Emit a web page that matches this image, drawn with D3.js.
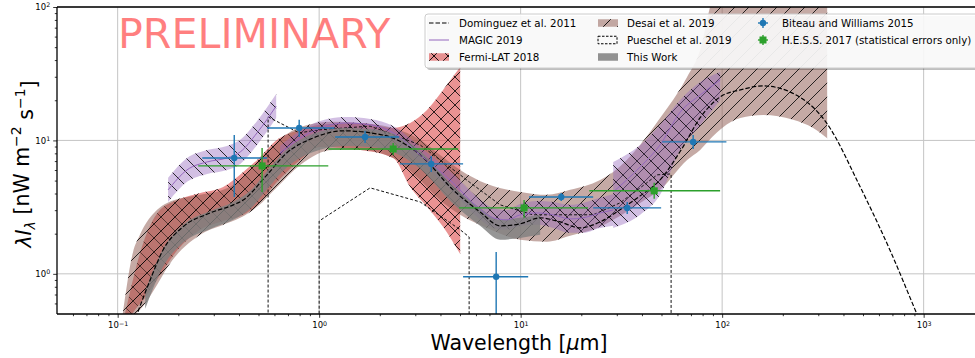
<!DOCTYPE html>
<html>
<head>
<meta charset="utf-8">
<script src="https://cdn.jsdelivr.net/npm/d3@7"></script>
<style>
  body { margin: 0; background: #fff; }
  svg { display: block; font-family: "DejaVu Sans", sans-serif; }
</style>
</head>
<body>
<svg id="chart" width="975" height="358"></svg>
<script>
// Dominguez et al. 2011 model
const domWl  = [0.12, 0.125, 0.145, 0.168, 0.211, 0.288, 0.375, 0.42, 0.55, 0.69, 0.93, 1.32, 1.79, 2.33, 3.17, 4.62, 6.29, 7.9, 9.95, 12.5, 15.7, 19.7, 24.8, 31, 39.2, 49.2, 62.6, 77.8, 97.8, 123, 160, 217, 330, 484, 680, 926, 1200];
const domVal = [0.42, 0.50, 0.90, 1.51, 2.25, 2.86, 3.29, 3.58, 5.5, 8.05, 10.4, 11.8, 11.4, 10.4, 7.8, 4.26, 2.91, 2.29, 2.37, 2.63, 2.45, 2.21, 2.45, 3.01, 3.84, 5.06, 8.49, 14.8, 21.2, 23.9, 25.6, 23.1, 13.5, 4.49, 1.51, 0.50, 0.2];

// Fermi-LAT 2018
const fermiWl = [0.109, 0.119, 0.134, 0.159, 0.198, 0.257, 0.334, 0.420, 0.493, 0.619, 0.805, 1.01, 1.60, 2.33, 2.83, 3.43, 4.12, 5.01];
const fermiLo = [0.40, 0.51, 0.64, 0.93, 1.51, 2.14, 2.49, 2.77, 3.29, 4.89, 7.14, 8.94, 8.49, 7.39, 4.48, 3.18, 2.25, 1.41];
const fermiHi = [0.51, 0.90, 1.71, 2.91, 3.58, 4.04, 4.48, 5.81, 7.14, 10.1, 12.0, 13.1, 13.5, 12.4, 13.5, 16.9, 23.9, 35.5];

// Desai et al. 2019
const desaiWl = [0.106, 0.119, 0.129, 0.157, 0.176, 0.257, 0.334, 0.406, 0.492, 0.619, 0.805, 1.17, 1.60, 2.33, 3.17, 3.98, 5.01, 6.82, 9.95, 13.5, 17.6, 24.8, 28.8, 39.2, 49.2, 67.0, 77.8, 89.2, 100, 123, 160, 225, 283, 332];
const desaiLo = [0.45, 0.485, 0.537, 0.828, 1.11, 1.96, 2.33, 2.63, 3.18, 4.48, 6.55, 8.49, 8.49, 7.39, 5.06, 3.58, 2.77, 2.21, 1.80, 1.74, 1.93, 2.25, 2.54, 3.40, 4.26, 7.14, 8.49, 10.6, 12.4, 14.7, 15.5, 14.3, 12.4, 10.4];
const desaiHi = [0.50, 1.44, 1.96, 3.02, 3.40, 3.91, 4.26, 5.06, 6.90, 9.75, 12.6, 13.8, 13.5, 12.4, 10.1, 7.79, 6.01, 4.72, 4.11, 3.91, 4.26, 5.06, 5.81, 9.25, 14.7, 29.9, 47.6, 113, 150, 150, 150, 150, 150, 150];

// MAGIC 2019, three wavelength bins
const magicAWl  = [0.178, 0.221, 0.278, 0.349, 0.406, 0.492, 0.612];
const magicAVal = [4.26, 6.01, 6.90, 7.39, 8.20, 11.4, 18.1];
const magicALo  = [3.46, 4.89, 5.61, 6.01, 6.67, 9.25, 14.7];
const magicAHi  = [5.24, 7.39, 8.49, 9.10, 10.1, 14.0, 22.3];

const magicBWl  = [0.640, 0.805, 1.01, 1.35, 1.79, 2.33, 3.17, 4.62, 6.08, 7.30, 8.57, 9.95, 12.1, 14.5, 17.6, 20.4, 24.8, 28.8];
const magicBVal = [8.06, 10.4, 12.4, 13.5, 13.1, 11.4, 7.79, 4.81, 3.18, 2.63, 2.54, 2.77, 2.86, 2.77, 2.58, 2.63, 2.86, 3.01];
const magicBLo  = [7.14, 9.25, 11.0, 12.2, 11.8, 10.1, 6.78, 4.11, 2.67, 2.21, 2.14, 2.29, 2.33, 2.21, 2.03, 2.03, 2.21, 2.29];
const magicBHi  = [9.10, 11.8, 14.0, 15.0, 14.5, 12.8, 8.94, 5.61, 3.77, 3.12, 3.01, 3.35, 3.52, 3.46, 3.29, 3.40, 3.71, 3.97];

const magicCWl  = [28.8, 39.2, 49.2, 61.9, 77.8, 97.8];
const magicCVal = [4.11, 6.33, 9.25, 16.3, 21.9, 28.4];
const magicCLo  = [2.21, 2.77, 3.91, 8.49, 13.0, 20.1];
const magicCHi  = [6.90, 9.25, 13.1, 20.1, 27.4, 32.6];

// Pueschel et al. 2019 (outline only)
const pueWl = [0.558, 0.796, 1.0, 1.0, 1.79, 3.17, 5.01, 5.55, 5.55, 7.91, 11.5, 22.9, 31.1, 39.2, 47.6, 55.8];
const pueLo = [0.3, 0.3, 0.3, 2.49, 4.41, 3.46, 2.14, 1.89, 0.3, 0.3, 0.3, 0.3, 0.3, 0.3, 0.3, 0.3];
const pueHi = [15.0, 11.4, 12.0, 12.0, 12.8, 9.25, 5.52, 4.89, 4.89, 3.29, 2.77, 2.77, 3.40, 4.41, 5.52, 5.61];

// This Work
const workWl = [0.137, 0.145, 0.168, 0.211, 0.288, 0.374, 0.455, 0.552, 0.694, 0.934, 1.32, 1.79, 2.33, 3.17, 4.62, 6.29, 7.91, 9.95, 12.5];
const workLo = [0.547, 0.684, 1.13, 1.71, 2.17, 2.54, 3.07, 4.33, 6.33, 8.20, 9.10, 8.94, 8.20, 6.12, 3.35, 2.29, 1.80, 1.86, 1.96];
const workHi = [0.746, 0.933, 1.54, 2.33, 2.96, 3.46, 4.19, 5.91, 8.63, 11.2, 12.4, 12.2, 11.2, 8.34, 4.56, 3.12, 2.54, 2.63, 2.77];

// Biteau and Williams 2015
const bwWl   = [0.379, 0.796, 1.69, 3.60, 7.56, 15.9, 33.8, 71.8];
const bwWlLo = [0.263, 0.552, 1.20, 2.52, 5.18, 11.0, 22.9, 50.4];
const bwWlHi = [0.552, 1.19, 2.49, 5.18, 10.9, 22.9, 49.8, 105];
const bwVal  = [7.39, 12.4, 10.6, 6.67, 0.95, 3.77, 3.12, 9.75];
const bwLo   = [3.77, 10.6, 9.58, 5.81, 0.3, 3.52, 2.81, 8.63];
const bwHi   = [11.0, 14.3, 11.8, 7.65, 1.46, 4.04, 3.46, 11.0];

// H.E.S.S. 2017
const hessWl   = [0.521, 2.33, 10.4, 46.0];
const hessWlLo = [0.251, 1.11, 4.95, 21.9];
const hessWlHi = [1.11, 4.90, 21.6, 97.7];
const hessVal  = [6.44, 8.63, 3.12, 4.19];
const hessLo   = [4.11, 7.79, 2.63, 3.65];
const hessHi   = [8.79, 9.58, 3.58, 4.81];

const xMajor = [0.1, 1, 10, 100, 1000];
const yMajor = [1, 10, 100];
const legendLabels = ["Dominguez et al. 2011", "MAGIC 2019", "Fermi-LAT 2018",
  "Desai et al. 2019", "Pueschel et al. 2019", "This Work",
  "Biteau and Williams 2015", "H.E.S.S. 2017 (statistical errors only)"];

const C = { blue: "#1f77b4", green: "#2ca02c", red: "#d62728", purple: "#9467bd", brown: "#8c564b", gray: "#7f7f7f" };

const svg = d3.select("#chart");
const x = d3.scaleLog().domain([0.05, 2000]).range([57, 984.3]);
const y = d3.scaleLog().domain([0.5, 100]).range([314, 7]);

const defs = svg.append("defs");
defs.append("clipPath").attr("id", "plot").append("rect")
  .attr("x", 57).attr("y", 7).attr("width", 930).attr("height", 307);

function hatch(id, kinds) {
  const s = 14;
  const p = defs.append("pattern").attr("id", id).attr("patternUnits", "userSpaceOnUse")
    .attr("width", s).attr("height", s);
  let d = "";
  if (kinds.includes("/")) d += `M0,${s} L${s},0 M-3,3 L3,-3 M${s-3},${s+3} L${s+3},${s-3} `;
  if (kinds.includes("\\")) d += `M0,0 L${s},${s} M-3,${s-3} L3,${s+3} M${s-3},-3 L${s+3},3 `;
  p.append("path").attr("d", d).attr("stroke", "#000").attr("stroke-width", 0.9).attr("fill", "none");
}
hatch("hx", "/\\");
hatch("hf", "/");
hatch("hb", "\\");

const rows = (wl, lo, hi, v) => wl.map((w, i) => ({ wl: w, lo: lo[i], hi: hi[i], v: v ? v[i] : null }));
const area = d3.area().x(d => x(d.wl)).y0(d => y(d.lo)).y1(d => y(d.hi)).curve(d3.curveMonotoneX);
const line = d3.line().x(d => x(d.wl)).y(d => y(d.v)).curve(d3.curveMonotoneX);

// grid
const grid = svg.append("g").attr("stroke", "#c4c4c4").attr("stroke-width", 1);
grid.selectAll(".gx").data(xMajor).join("line")
  .attr("x1", d => x(d)).attr("x2", d => x(d)).attr("y1", 7).attr("y2", 314);
grid.selectAll(".gy").data(yMajor).join("line")
  .attr("x1", 57).attr("x2", 975).attr("y1", d => y(d)).attr("y2", d => y(d));

const plot = svg.append("g").attr("clip-path", "url(#plot)");

function band(data, color, alpha, pat) {
  plot.append("path").datum(data).attr("d", area).attr("fill", color).attr("fill-opacity", alpha);
  if (pat) plot.append("path").datum(data).attr("d", area).attr("fill", `url(#${pat})`).attr("opacity", 0.9);
}

band(rows(fermiWl, fermiLo, fermiHi), C.red, 0.5, "hx");
band(rows(desaiWl, desaiLo, desaiHi), C.brown, 0.5, "hf");
const magicSets = [
  rows(magicAWl, magicALo, magicAHi, magicAVal),
  rows(magicBWl, magicBLo, magicBHi, magicBVal),
  rows(magicCWl, magicCLo, magicCHi, magicCVal)
];
magicSets.forEach(s => band(s, C.purple, 0.42, "hb"));

// Pueschel outline
plot.append("path").datum(rows(pueWl, pueLo, pueHi))
  .attr("d", d3.area().x(d => x(d.wl)).y0(d => y(d.lo)).y1(d => y(d.hi)))
  .attr("fill", "none").attr("stroke", "#111").attr("stroke-width", 1).attr("stroke-dasharray", "3,2");

band(rows(workWl, workLo, workHi), C.gray, 0.82, null);

plot.append("path").datum(rows(domWl, domVal, domVal, domVal)).attr("d", line)
  .attr("fill", "none").attr("stroke", "#000").attr("stroke-width", 1.2).attr("stroke-dasharray", "4.5,2");

magicSets.forEach(s => plot.append("path").datum(s).attr("d", line)
  .attr("fill", "none").attr("stroke", C.purple).attr("stroke-width", 1));

function errorbars(wl, wlo, whi, v, lo, hi, color, marker) {
  const g = plot.append("g");
  const pts = wl.map((w, i) => ({ w, wlo: wlo[i], whi: whi[i], v: v[i], lo: lo[i], hi: hi[i] }));
  g.selectAll(".h").data(pts).join("line")
    .attr("x1", d => x(d.wlo)).attr("x2", d => x(d.whi)).attr("y1", d => y(d.v)).attr("y2", d => y(d.v))
    .attr("stroke", color).attr("stroke-width", 1.4);
  g.selectAll(".v").data(pts).join("line")
    .attr("x1", d => x(d.w)).attr("x2", d => x(d.w)).attr("y1", d => y(d.lo)).attr("y2", d => y(d.hi))
    .attr("stroke", color).attr("stroke-width", 1.4);
  if (marker === "circle") {
    g.selectAll("circle").data(pts).join("circle")
      .attr("cx", d => x(d.w)).attr("cy", d => y(d.v)).attr("r", 3.2).attr("fill", color);
  } else {
    g.selectAll("rect").data(pts).join("rect")
      .attr("x", d => x(d.w) - 3.5).attr("y", d => y(d.v) - 3.5).attr("width", 7).attr("height", 7).attr("fill", color);
  }
}
errorbars(bwWl, bwWlLo, bwWlHi, bwVal, bwLo, bwHi, C.blue, "circle");
errorbars(hessWl, hessWlLo, hessWlHi, hessVal, hessLo, hessHi, C.green, "square");

// axes
function supLabel(sel, d) {
  const e = Math.round(Math.log10(d));
  sel.text(null);
  sel.append("tspan").text("10");
  sel.append("tspan").attr("dy", "-0.45em").attr("font-size", "6.3px").text(e < 0 ? "\u2212" + (-e) : e);
}
const xMinor = [];
[0.01, 0.1, 1, 10, 100, 1000].forEach(b => d3.range(2, 10).forEach(k => { const v = b * k; if (v > 0.05 && v < 2000) xMinor.push(v); }));
const yMinor = [];
[0.1, 1, 10].forEach(b => d3.range(2, 10).forEach(k => { const v = b * k; if (v > 0.5 && v < 100) yMinor.push(v); }));

const gx = svg.append("g").attr("transform", "translate(0,314)");
gx.append("g").call(d3.axisBottom(x).tickValues(xMinor).tickSize(2.2).tickFormat(""));
const gxMaj = gx.append("g").call(d3.axisBottom(x).tickValues(xMajor).tickSize(3.8).tickPadding(3));
gx.selectAll(".domain").remove();
gx.selectAll(".tick line").attr("stroke-width", 0.8);
gxMaj.selectAll(".tick text").attr("font-size", "8.5px").attr("font-family", "DejaVu Sans").attr("dy", "0.9em")
  .each(function(d) { supLabel(d3.select(this), d); });

const gy = svg.append("g").attr("transform", "translate(57,0)");
gy.append("g").call(d3.axisLeft(y).tickValues(yMinor).tickSize(2.2).tickFormat(""));
const gyMaj = gy.append("g").call(d3.axisLeft(y).tickValues(yMajor).tickSize(3.8).tickPadding(3));
gy.selectAll(".domain").remove();
gy.selectAll(".tick line").attr("stroke-width", 0.8);
gyMaj.selectAll(".tick text").attr("font-size", "8.5px").attr("font-family", "DejaVu Sans")
  .each(function(d) { supLabel(d3.select(this), d); });

// spines
svg.append("line").attr("x1", 57).attr("x2", 975).attr("y1", 7).attr("y2", 7).attr("stroke", "#000").attr("stroke-width", 1.3);
svg.append("line").attr("x1", 57).attr("x2", 975).attr("y1", 314).attr("y2", 314).attr("stroke", "#000").attr("stroke-width", 1.3);
svg.append("line").attr("x1", 57).attr("x2", 57).attr("y1", 7).attr("y2", 314).attr("stroke", "#000").attr("stroke-width", 1.3);

// axis labels
const xl = svg.append("text").attr("x", 519).attr("y", 349.5).attr("text-anchor", "middle").attr("font-size", "20.5px");
xl.append("tspan").text("Wavelength [");
xl.append("tspan").attr("font-style", "italic").text("\u03bc");
xl.append("tspan").text("m]");

const yl = svg.append("text").attr("transform", "translate(31,164) rotate(-90)").attr("text-anchor", "middle").attr("font-size", "20.5px");
yl.append("tspan").attr("font-style", "italic").text("\u03bbI");
yl.append("tspan").attr("font-style", "italic").attr("font-size", "14px").attr("dy", "0.3em").text("\u03bb");
yl.append("tspan").attr("dy", "-0.3em").text(" [nW m");
yl.append("tspan").attr("font-size", "14px").attr("dy", "-0.55em").text("\u22122");
yl.append("tspan").attr("dy", "0.55em").text(" s");
yl.append("tspan").attr("font-size", "14px").attr("dy", "-0.55em").text("\u22121");
yl.append("tspan").attr("dy", "0.55em").text("]");

// watermark
svg.append("text").attr("x", 118).attr("y", 48).attr("font-size", "41.2px")
  .attr("fill", "#ff0000").attr("fill-opacity", 0.5).text("PRELIMINARY");

// legend
const lg = svg.append("g").attr("font-size", "10.3px");
lg.append("rect").attr("x", 427).attr("y", 16).attr("width", 560).attr("height", 54).attr("rx", 3)
  .attr("fill", "#000").attr("fill-opacity", 0.25);
lg.append("rect").attr("x", 425).attr("y", 14).attr("width", 560).attr("height", 54).attr("rx", 3)
  .attr("fill", "#fff").attr("fill-opacity", 0.9).attr("stroke", "#cccccc").attr("stroke-width", 1);
const rowY = [23, 40, 57];
const colX = [429, 598, 753];
const textX = [459, 627, 782];
legendLabels.forEach((t, i) => {
  const c = Math.floor(i / 3), r = i % 3;
  lg.append("text").attr("x", textX[c]).attr("y", rowY[r] + 3.7).text(t);
});
const hw = 20, hh = 7.5;
lg.append("line").attr("x1", colX[0]).attr("x2", colX[0] + hw).attr("y1", rowY[0]).attr("y2", rowY[0])
  .attr("stroke", "#000").attr("stroke-width", 1.2).attr("stroke-dasharray", "4.5,2");
lg.append("line").attr("x1", colX[0]).attr("x2", colX[0] + hw).attr("y1", rowY[1]).attr("y2", rowY[1])
  .attr("stroke", C.purple).attr("stroke-width", 1);
function patch(cx, cy, color, alpha, pat, dashed) {
  const r = lg.append("rect").attr("x", cx).attr("y", cy - hh / 2).attr("width", dashed ? hw - 1 : hw).attr("height", hh);
  if (dashed) { r.attr("fill", "none").attr("stroke", "#000").attr("stroke-width", 1).attr("stroke-dasharray", "2.5,1.5"); return; }
  r.attr("fill", color).attr("fill-opacity", alpha);
  if (pat) lg.append("rect").attr("x", cx).attr("y", cy - hh / 2).attr("width", hw).attr("height", hh).attr("fill", `url(#${pat})`);
}
patch(colX[0], rowY[2], C.red, 0.5, "hx");
patch(colX[1], rowY[0], C.brown, 0.5, "hf");
patch(colX[1], rowY[1], null, 0, null, true);
patch(colX[1], rowY[2], C.gray, 0.85, null);
[[C.blue, "circle"], [C.green, "square"]].forEach(([col, m], r) => {
  const cx = 763, cy = rowY[r];
  lg.append("line").attr("x1", cx - 5).attr("x2", cx + 5).attr("y1", cy).attr("y2", cy).attr("stroke", col).attr("stroke-width", 1.4);
  lg.append("line").attr("x1", cx).attr("x2", cx).attr("y1", cy - 5).attr("y2", cy + 5).attr("stroke", col).attr("stroke-width", 1.4);
  if (m === "circle") lg.append("circle").attr("cx", cx).attr("cy", cy).attr("r", 3.2).attr("fill", col);
  else lg.append("rect").attr("x", cx - 3.5).attr("y", cy - 3.5).attr("width", 7).attr("height", 7).attr("fill", col);
});
</script>
</body>
</html>
